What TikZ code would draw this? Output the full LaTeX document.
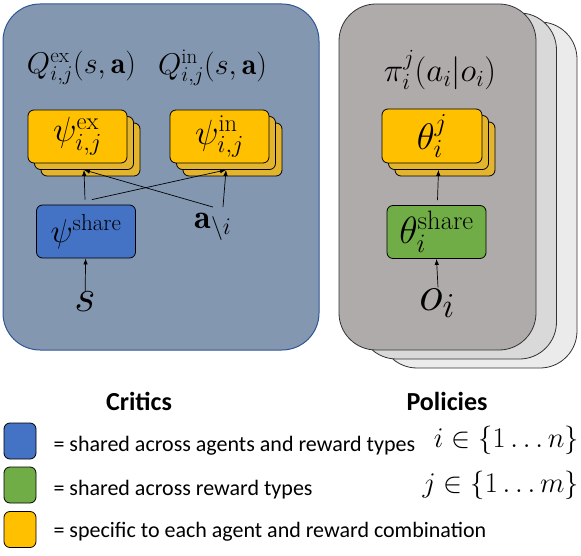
\RequirePackage{fix-cm}
\documentclass[tikz,border=0pt]{standalone}
\usepackage{amsmath}
\usepackage{fontspec}
\newfontfamily\legendfont{Carlito}
\usetikzlibrary{arrows.meta}
\usetikzlibrary{shadows}

\definecolor{critbg}{HTML}{8497B0}
\definecolor{critline}{HTML}{2F5597}
\definecolor{polbg}{HTML}{AFABAB}
\definecolor{polbgtwo}{HTML}{D9D9D9}
\definecolor{polbgthree}{HTML}{EBEBEB}
\definecolor{sharedblue}{HTML}{4472C4}
\definecolor{sharedgreen}{HTML}{70AD47}
\definecolor{specgold}{HTML}{FFC000}
\definecolor{specgoldback}{HTML}{E3B52F}

\tikzset{
  block/.style={draw=black, line width=0.8pt, rounded corners=6pt, minimum width=99pt, minimum height=53pt, inner sep=0pt},
  stackbox/.style={block, fill=specgold, double copy shadow={shadow xshift=6.5pt, shadow yshift=-6.5pt, fill=specgoldback, draw=black, line width=0.8pt}},
  legendkey/.style={draw=black, line width=0.8pt, rounded corners=6pt, minimum width=32pt, minimum height=36pt, inner sep=0pt},
  feed/.style={-{Latex[length=6pt,width=4.5pt]}, line width=0.7pt},
  mathlabel/.style={inner sep=1pt, font=\fontsize{#1}{#1}\selectfont},
}

\begin{document}
\begin{tikzpicture}[x=1pt, y=-1pt]
  \useasboundingbox (0,0) rectangle (581,556);

  % critics
  \draw[critline, fill=critbg, line width=1pt, rounded corners=37pt] (3,4) rectangle (319,350);
  \node[mathlabel=30] (qex) at (81.5,68) {$Q^{\mathrm{ex}}_{i,j}(s,\mathbf{a})$};
  \node[mathlabel=30] (qin) at (212.5,68) {$Q^{\mathrm{in}}_{i,j}(s,\mathbf{a})$};
  \node[stackbox, mathlabel=35] (psiex) at (77.5,136.5) {$\psi^{\mathrm{ex}}_{i,j}$};
  \node[stackbox, mathlabel=35] (psiin) at (219.5,136.5) {$\psi^{\mathrm{in}}_{i,j}$};
  \node[block, fill=sharedblue, mathlabel=33] (psish) at (86,231.5) {$\psi^{\mathrm{share}}$};
  \node[mathlabel=46] (s) at (85,302) {$s$};
  \node[mathlabel=34] (aother) at (213,227) {$\mathbf{a}_{\backslash i}$};

  \draw[feed] (s) -- (psish);
  \draw[feed] ([xshift=-1pt,yshift=5pt]psish.north) -- ([xshift=6.5pt,yshift=-6.5pt]psiex.south);
  \draw[feed] ([xshift=6pt,yshift=5pt]psish.north) -- ([xshift=6.5pt,yshift=-6.5pt]psiin.south);
  \draw[feed] ([yshift=5pt]aother.north) -- ([xshift=6.5pt,yshift=-6.5pt]psiex.south);
  \draw[feed] ([xshift=10pt,yshift=5pt]aother.north) -- ([xshift=6.5pt,yshift=-6.5pt]psiin.south);

  % policies
  \foreach \k/\c in {2/polbgthree, 1/polbgtwo, 0/polbg}
    \draw[black!80, fill=\c, line width=0.8pt, rounded corners=37pt] (339+20.5*\k, 4+9*\k) rectangle ++(197,346);
  \node[mathlabel=33] (pi) at (440,70) {$\pi^{j}_{i}(a_i|o_i)$};
  \node[stackbox, mathlabel=37, minimum width=100pt, minimum height=54pt] (thetaj) at (432,136) {$\theta^{j}_{i}$};
  \node[block, fill=sharedgreen, mathlabel=38] (thetash) at (436.5,232) {$\theta^{\mathrm{share}}_{i}$};
  \node[mathlabel=50] (o) at (437,303) {$o_i$};

  \draw[feed] ([xshift=1pt]o.north) -- (thetash.south);
  \draw[feed] ([xshift=1pt,yshift=5pt]thetash.north) -- ([xshift=6.5pt,yshift=-6.5pt]thetaj.south);

  % legend
  \node[font=\legendfont\bfseries\fontsize{26}{30}\selectfont] (critics) at (139,401) {Critics};
  \node[font=\legendfont\bfseries\fontsize{26}{30}\selectfont] (policies) at (447,401) {Policies};
  \node[legendkey, fill=sharedblue] (keyblue) at (20,441) {};
  \node[legendkey, fill=sharedgreen] (keygreen) at (20,485) {};
  \node[legendkey, fill=specgold] (keygold) at (20,529.5) {};
  \node[anchor=base west, font=\legendfont\fontsize{22}{26}\selectfont] (txtblue) at (50,451) {= shared across agents and reward types};
  \node[anchor=base west, font=\legendfont\fontsize{22}{26}\selectfont] (txtgreen) at (50,495) {= shared across reward types};
  \node[anchor=base west, font=\legendfont\fontsize{22}{26}\selectfont] (txtgold) at (50,537) {= specific to each agent and reward combination};
  \node[anchor=base east, mathlabel=28.5] (irange) at (580,447) {$i \in \{1 \dots n\}$};
  \node[anchor=base east, mathlabel=28.5] (jrange) at (580,492) {$j \in \{1 \dots m\}$};
\end{tikzpicture}
\end{document}
